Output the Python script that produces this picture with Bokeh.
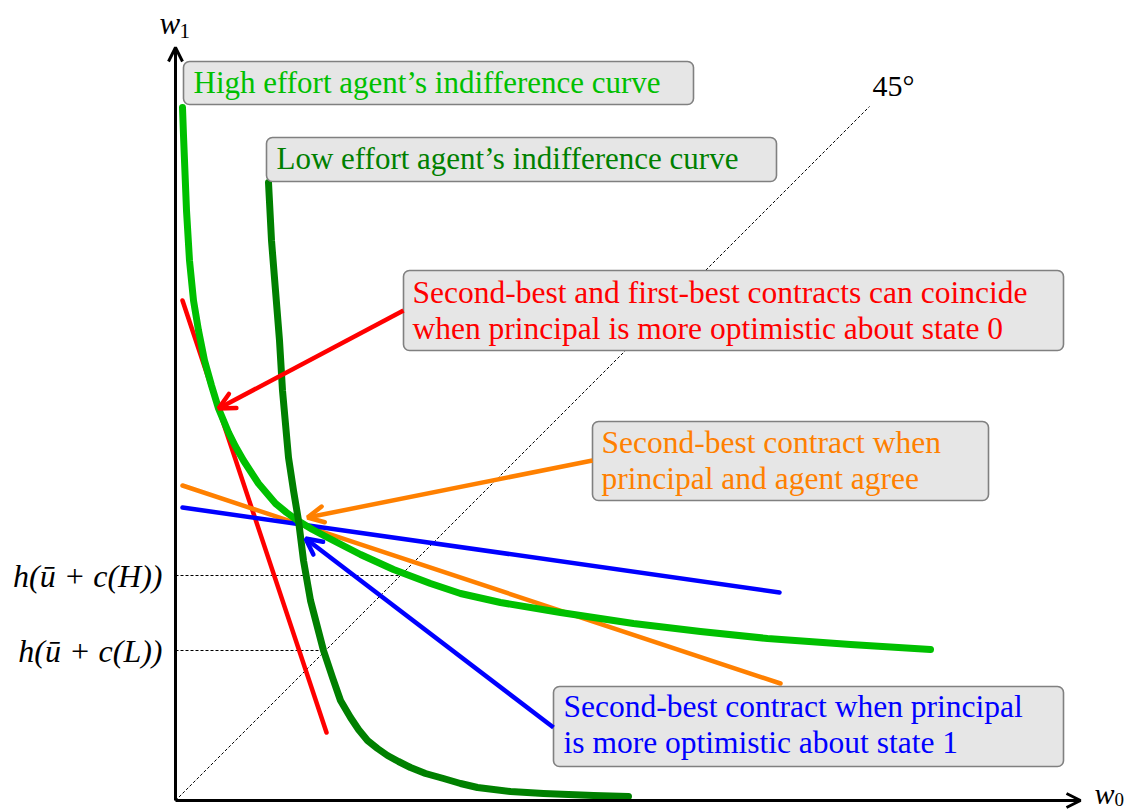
from bokeh.plotting import figure
from bokeh.models import Range1d, Arrow, OpenHead, ColumnDataSource
from bokeh.core.properties import value
from bokeh.embed import file_html
from bokeh.resources import INLINE

# ---- data (units: w0, w1) ----
high_w0 = [0.07, 0.08, 0.09, 0.11, 0.14, 0.18, 0.23, 0.29, 0.36, 0.43, 0.53, 0.60, 0.68, 0.83,
           1.00, 1.11, 1.22, 1.37, 1.52, 1.85, 2.18, 2.55, 2.85, 3.25, 3.85, 4.58, 5.25, 5.92,
           6.75, 7.55]
high_w1 = [6.93, 6.65, 6.40, 5.90, 5.40, 5.00, 4.70, 4.40, 4.15, 3.92, 3.68, 3.54, 3.40, 3.17,
           2.97, 2.88, 2.80, 2.71, 2.63, 2.46, 2.31, 2.17, 2.07, 1.98, 1.88, 1.77, 1.69, 1.62,
           1.56, 1.51]
low_w0 = [0.93, 0.96, 1.00, 1.04, 1.07, 1.13, 1.18, 1.23, 1.28, 1.35, 1.48, 1.57, 1.65, 1.75,
          1.83, 1.92, 2.02, 2.12, 2.23, 2.35, 2.50, 2.68, 2.85, 3.02, 3.35, 3.68, 4.18, 4.53]
low_w1 = [6.18, 5.60, 5.10, 4.60, 4.10, 3.43, 3.10, 2.80, 2.40, 2.00, 1.50, 1.23, 1.00, 0.83,
          0.71, 0.60, 0.52, 0.45, 0.39, 0.33, 0.27, 0.22, 0.17, 0.13, 0.09, 0.07, 0.05, 0.04]

# contract lines (start, end)
red_w0 = [0.07, 1.51]
red_w1 = [5.00, 0.68]
orange_w0 = [0.07, 6.05]
orange_w1 = [3.15, 1.17]
blue_w0 = [0.07, 6.04]
blue_w1 = [2.93, 2.08]

# reservation levels
level_H = 2.25
level_L = 1.50
diag_end = 6.94
axis_w0_max = 9.05
axis_w1_max = 7.53

# annotation arrows: (tail_w0, tail_w1, tip_w0, tip_w1)
red_arrow = [2.28, 4.90, 0.43, 3.92]
orange_arrow = [4.17, 3.40, 1.32, 2.83]
blue_arrow = [3.78, 0.73, 1.30, 2.62]

high_label = "High effort agent\u2019s indifference curve"
low_label = "Low effort agent\u2019s indifference curve"
red_label = ["Second-best and first-best contracts can coincide",
             "when principal is more optimistic about state 0"]
orange_label = ["Second-best contract when", "principal and agent agree"]
blue_label = ["Second-best contract when principal", "is more optimistic about state 1"]

C_HIGH = "#00c000"
C_LOW = "#008000"
C_RED = "#ff0000"
C_ORANGE = "#ff8000"
C_BLUE = "#0000ff"
FONT = value("Liberation Serif")

p = figure(width=1127, height=810, x_range=Range1d(-1.75, 9.52), y_range=Range1d(-0.10, 8.00),
           output_backend="svg", toolbar_location=None, min_border=0)
p.axis.visible = False
p.grid.visible = False
p.outline_line_color = None
p.background_fill_color = "white"

# 45 degree line and dashed levels
p.line([0, diag_end], [0, diag_end], line_color="black", line_width=1, line_dash="3 2")
p.line([0, level_H], [level_H, level_H], line_color="black", line_width=1, line_dash="3 2")
p.line([0, level_L], [level_L, level_L], line_color="black", line_width=1, line_dash="3 2")

# contract lines
p.line(red_w0, red_w1, line_color=C_RED, line_width=4.5, line_cap="round")
p.line(orange_w0, orange_w1, line_color=C_ORANGE, line_width=4.5, line_cap="round")
p.line(blue_w0, blue_w1, line_color=C_BLUE, line_width=4.5, line_cap="round")

# indifference curves
p.line(high_w0, high_w1, line_color=C_HIGH, line_width=7, line_cap="round", line_join="round")
p.line(low_w0, low_w1, line_color=C_LOW, line_width=7, line_cap="round", line_join="round")

# axes
p.add_layout(Arrow(end=OpenHead(size=14, line_width=3, line_color="black"),
                   x_start=0, y_start=0, x_end=0, y_end=axis_w1_max, line_width=3, line_color="black"))
p.add_layout(Arrow(end=OpenHead(size=14, line_width=3, line_color="black"),
                   x_start=0, y_start=0, x_end=axis_w0_max, y_end=0, line_width=3, line_color="black"))

# annotation arrows
for arr, col in [(red_arrow, C_RED), (orange_arrow, C_ORANGE), (blue_arrow, C_BLUE)]:
    p.add_layout(Arrow(end=OpenHead(size=16, line_width=4.5, line_color=col, line_cap="round"),
                       x_start=arr[0], y_start=arr[1], x_end=arr[2], y_end=arr[3],
                       line_width=4.5, line_color=col))

# boxes
boxes = dict(left=[0.08, 0.91, 2.28, 4.17, 3.78],
             right=[5.18, 6.01, 8.88, 8.13, 8.88],
             top=[7.39, 6.63, 5.30, 3.79, 1.14],
             bottom=[6.96, 6.19, 4.50, 3.00, 0.34])
p.quad(source=ColumnDataSource(boxes), left="left", right="right", top="top", bottom="bottom",
       fill_color="#e6e6e6", line_color="#808080", line_width=1.6, border_radius=6)

def txt(x, y, s, color, size="31.5px", align="left", style="normal"):
    p.text(x=[x], y=[y], text=[s], text_color=color, text_font=FONT, text_font_size=size,
           text_align=align, text_baseline="middle", text_font_style=style)

txt(0.18, 7.18, high_label, C_HIGH, size="31px")
txt(1.01, 6.42, low_label, C_LOW, size="31px")
txt(2.37, 5.08, red_label[0], C_RED)
txt(2.37, 4.72, red_label[1], C_RED)
txt(4.26, 3.58, orange_label[0], C_ORANGE)
txt(4.26, 3.22, orange_label[1], C_ORANGE)
txt(3.88, 0.94, blue_label[0], C_BLUE)
txt(3.88, 0.58, blue_label[1], C_BLUE)

# math labels
txt(-0.13, level_H, "h(\u016b + c(H))", "black", size="32px", align="right", style="italic")
txt(-0.13, level_L, "h(\u016b + c(L))", "black", size="32px", align="right", style="italic")
txt(-0.16, 7.77, "w", "black", size="31px", style="italic")
txt(0.04, 7.70, "1", "black", size="21px")
txt(9.19, 0.07, "w", "black", size="30px", style="italic")
txt(9.39, 0.01, "0", "black", size="19px")
txt(6.97, 7.15, "45\u00b0", "black", size="30px")

open("out.html", "w").write(file_html(p, INLINE))
